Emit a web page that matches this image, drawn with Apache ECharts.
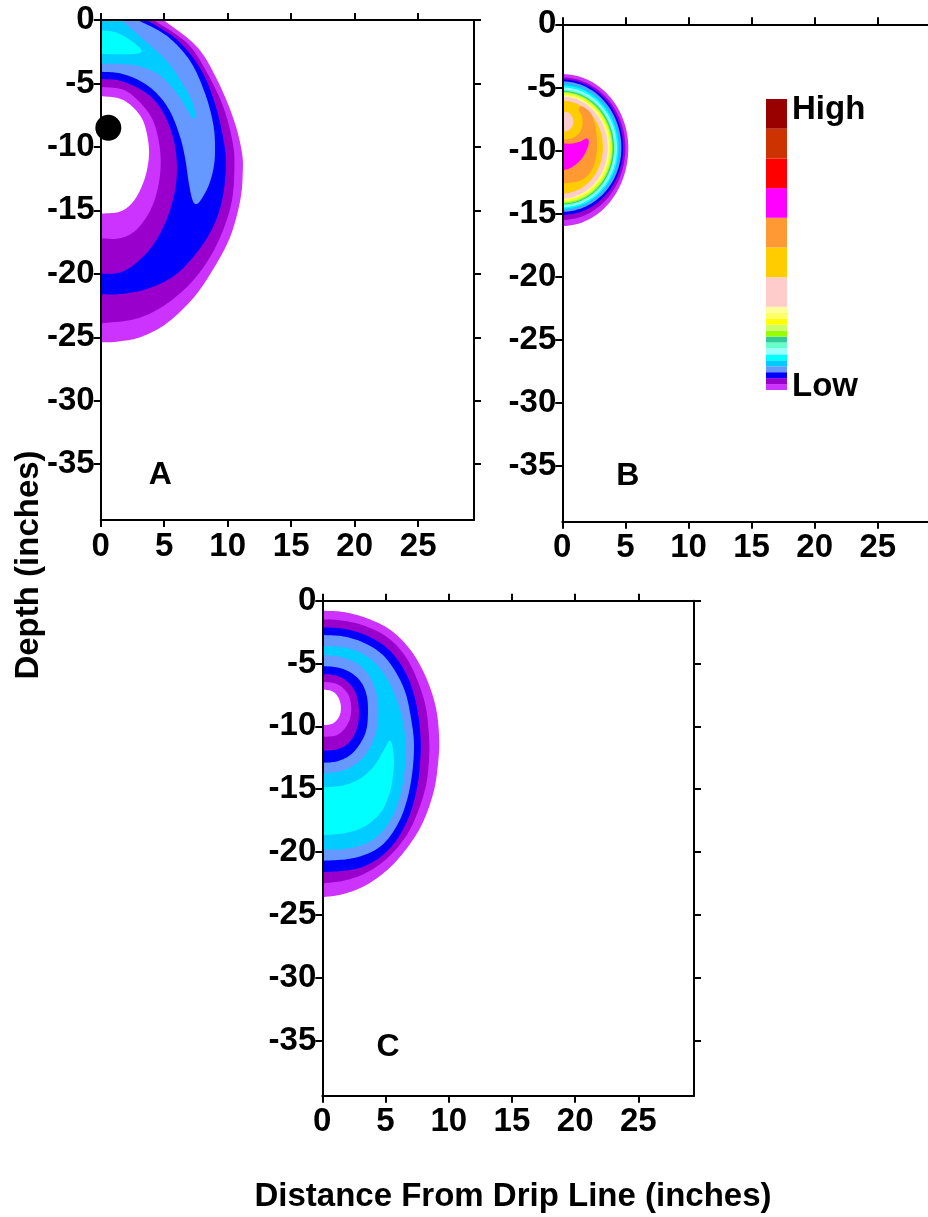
<!DOCTYPE html>
<html>
<head>
<meta charset="utf-8">
<script src="https://cdn.jsdelivr.net/npm/echarts@6.0.0/dist/echarts.min.js"></script>
<style>
html,body{margin:0;padding:0;background:#fff;}
#chart{width:928px;height:1217px;}
</style>
</head>
<body>
<div id="chart"></div>
<script>
// ---------- axes / ticks ----------
const xTickValues = [0, 5, 10, 15, 20, 25];
const yTickValues = [0, -5, -10, -15, -20, -25, -30, -35];
const xMax = 29.4;
const yMin = -39.4;

// ---------- level colours (Low -> High) ----------
const levelColors = ['#CC33FF','#9900CC','#0000FF','#6699FF','#00CCFF','#00FFFF','#99FFFF','#66FFCC','#33CC99','#99FF00','#CCFF66','#FFFF00','#FFFF66','#FFFF99','#FFCCCC','#FFCC00','#FF9933','#FF00FF','#FF0000','#CC3300','#990000'];
const legendBandSizes = [1,1,1,1,1,1,1,1,1,1,1,1,1,1,5,5,5,5,5,5,5];

// ---------- Panel A contour boundaries (x, depth) ----------
const A_lp   = [[4.94,0],[7.57,-2.1],[9.14,-4.65],[10.45,-7.76],[11.1,-10.3],[11.19,-12.0],[10.98,-14.26],[10.19,-17.1],[8.88,-19.6],[7.3,-21.9],[5.2,-23.9],[3.1,-25.0],[1.26,-25.35],[0,-25.4]];
const A_dp   = [[4.15,0],[6.78,-1.8],[8.35,-4.1],[9.67,-6.9],[10.4,-9.7],[10.53,-11.7],[10.32,-14.3],[9.54,-16.8],[8.35,-19.1],[6.78,-21.05],[4.68,-22.7],[2.57,-23.6],[0,-23.9]];
const A_blue = [[3.6,0],[5.99,-1.54],[7.83,-3.8],[9.0,-6.6],[9.72,-9.74],[9.85,-11.7],[9.54,-14.3],[8.75,-16.5],[7.43,-18.5],[5.73,-20.2],[3.62,-21.2],[1.52,-21.6],[0,-21.6]];
const A_cf   = [[2.9,0],[5.2,-1.25],[7.04,-3.23],[8.22,-5.8],[8.88,-8.3],[9.0,-10.3],[8.88,-11.7],[8.48,-13.1],[7.83,-14.26],[7.45,-14.5],[7.17,-14.0],[6.9,-12.6],[6.65,-10.9],[6.25,-9.2],[5.46,-7.2],[4.41,-5.78],[3.1,-4.8],[1.52,-4.2],[0,-4.08]];
const A_ds   = [[1.6,0],[3.36,-1.54],[5.2,-3.23],[6.38,-4.93],[7.17,-6.35],[7.45,-7.5],[7.2,-7.75],[6.9,-7.2],[5.99,-5.78],[4.68,-4.37],[3.1,-3.66],[1.52,-3.46],[0,-3.46]];
const A_cyan = [[0,-0.83],[1.0,-0.92],[2.05,-1.4],[2.97,-2.1],[3.23,-2.45],[2.9,-2.65],[2.0,-2.7],[1.0,-2.7],[0,-2.67]];
const A_hole3 = [[0,-4.65],[1.52,-4.79],[3.36,-5.6],[4.68,-6.9],[5.6,-8.9],[5.99,-11.15],[5.86,-13.4],[5.2,-15.7],[4.15,-17.7],[2.84,-19.1],[1.52,-19.9],[0,-20.0]];
const A_hole2 = [[0,-5.27],[1.79,-5.5],[3.1,-6.5],[4.15,-8.0],[4.68,-10.3],[4.62,-12.6],[4.0,-14.8],[2.84,-16.5],[1.52,-17.2],[0,-17.2]];
const A_hole1 = [[0,-6.0],[1.52,-6.2],[2.57,-6.9],[3.36,-8.0],[3.76,-9.7],[3.76,-11.15],[3.36,-12.8],[2.57,-14.3],[1.52,-15.1],[0,-15.25]];
const A_dot = [[0.6,-8.5]];

// ---------- Panel B rings: top depth, right x, depth at right, bottom depth ----------
const B_ringTop    = [-3.94,-4.21,-4.36,-4.52,-4.68,-4.84,-5.0,-5.15,-5.26,-5.34,-5.42,-5.5,-5.58,-5.66,-5.73,-6.05];
const B_ringRight  = [5.23,5.0,4.82,4.68,4.56,4.44,4.32,4.2,4.1,4.0,3.92,3.84,3.76,3.68,3.6,3.22];
const B_ringRightY = [-9.8,-9.8,-9.8,-9.8,-9.8,-9.8,-9.8,-9.8,-9.8,-9.8,-9.8,-9.8,-9.8,-9.8,-9.75,-9.7];
const B_ringBottom = [-15.98,-15.5,-15.1,-14.85,-14.72,-14.6,-14.48,-14.37,-14.27,-14.2,-14.1,-14.0,-13.92,-13.85,-13.8,-13.4];
const B_orange   = [[0,-9.15],[0.8,-9.0],[1.35,-8.6],[1.6,-8.0],[1.55,-7.3],[1.3,-6.75],[1.5,-6.5],[2.1,-6.85],[2.5,-7.6],[2.72,-8.8],[2.72,-10.2],[2.46,-11.28],[1.93,-12.07],[1.14,-12.47],[0,-12.6]];
const B_magenta  = [[0,-9.43],[0.7,-9.45],[1.4,-9.3],[1.9,-9.05],[2.1,-9.25],[1.95,-9.9],[1.45,-10.75],[0.65,-11.38],[0,-11.55]];
const B_pinkBlob = [[0,-6.92],[0.5,-7.0],[0.8,-7.35],[0.87,-7.75],[0.75,-8.15],[0.45,-8.42],[0,-8.5]];

// ---------- Panel C contour boundaries ----------
const C_lp   = [[0,-0.8],[1.67,-0.9],[3.53,-1.4],[5.39,-2.33],[6.98,-3.93],[8.18,-6.05],[8.97,-8.44],[9.24,-10.83],[9.18,-12.7],[8.84,-15.07],[8.04,-17.46],[6.98,-19.3],[5.39,-21.2],[3.53,-22.6],[1.67,-23.35],[0,-23.6]];
const C_dp   = [[0,-1.48],[1.67,-1.59],[3.53,-2.07],[5.26,-3.0],[6.59,-4.46],[7.51,-6.31],[8.18,-8.44],[8.44,-10.83],[8.44,-12.69],[8.18,-14.8],[7.51,-16.93],[6.59,-18.79],[5.12,-20.51],[3.4,-21.7],[1.67,-22.29],[0,-22.5]];
const C_blue = [[0,-2.12],[1.67,-2.23],[3.4,-2.73],[4.99,-3.66],[6.19,-5.04],[7.06,-6.84],[7.57,-8.97],[7.78,-11.09],[7.73,-12.95],[7.46,-15.07],[6.85,-17.2],[5.87,-19.05],[4.6,-20.4],[3.0,-21.26],[1.41,-21.52],[0,-21.6]];
const C_cf   = [[0,-2.73],[1.67,-2.84],[3.27,-3.34],[4.73,-4.27],[5.79,-5.65],[6.59,-7.37],[7.04,-9.5],[7.25,-11.36],[7.14,-13.48],[6.77,-15.6],[6.13,-17.46],[5.12,-19.05],[3.93,-19.98],[2.2,-20.54],[0,-20.7]];
const C_ds   = [[0,-3.61],[1.67,-3.71],[3.13,-4.19],[4.33,-5.12],[5.26,-6.45],[5.98,-8.17],[6.45,-10.03],[6.58,-11.89],[6.45,-14.01],[6.05,-15.87],[5.39,-17.46],[4.46,-18.66],[3.27,-19.4],[1.67,-19.77],[0,-19.8]];
const C_cyan = [[0,-14.86],[1.67,-14.7],[3.0,-14.15],[4.06,-13.2],[4.86,-11.9],[5.25,-11.2],[5.45,-11.25],[5.6,-11.9],[5.66,-13.2],[5.39,-15.07],[4.73,-16.7],[3.53,-17.86],[1.94,-18.47],[0,-18.66]];
const C_ringCf   = [[0,-4.32],[1.41,-4.46],[2.74,-4.99],[3.67,-5.92],[4.2,-7.11],[4.41,-8.44],[4.33,-10.03],[3.93,-11.36],[3.27,-12.42],[2.34,-13.21],[1.28,-13.61],[0,-13.75]];
const C_ringBlue = [[0,-5.2],[1.28,-5.33],[2.34,-5.78],[3.13,-6.58],[3.53,-7.64],[3.61,-8.97],[3.48,-10.3],[3.0,-11.36],[2.21,-12.29],[1.14,-12.79],[0,-12.9]];
const C_ringDp   = [[0,-5.84],[1.14,-5.97],[1.99,-6.45],[2.6,-7.24],[2.87,-8.3],[2.87,-9.5],[2.6,-10.56],[1.99,-11.41],[1.14,-11.84],[0,-11.94]];
const C_ringLp   = [[0,-6.45],[1.01,-6.58],[1.67,-6.98],[2.13,-7.64],[2.29,-8.57],[2.15,-9.5],[1.67,-10.3],[1.01,-10.75],[0,-10.83]];
const C_hole     = [[0,-7.06],[0.74,-7.19],[1.2,-7.59],[1.46,-8.3],[1.41,-9.02],[1.09,-9.58],[0.61,-9.85],[0,-9.9]];

// ---------- panel letters ----------
const panelLetters = [
  {name:'A', value:[4.7,-35.9]},
  {name:'B', value:[5.2,-35.8]},
  {name:'C', value:[5.2,-35.5]}
];

// ---------- shape lists (drawing order) ----------
const WHITE = '#FFFFFF';
const shapesA = [
  {pts:A_lp, c:levelColors[0]}, {pts:A_dp, c:levelColors[1]}, {pts:A_blue, c:levelColors[2]},
  {pts:A_cf, c:levelColors[3]}, {pts:A_ds, c:levelColors[4]}, {pts:A_cyan, c:levelColors[5]},
  {pts:A_hole3, c:levelColors[1]}, {pts:A_hole2, c:levelColors[0]}, {pts:A_hole1, c:WHITE}
];
const shapesB = [];
for (let i = 0; i < B_ringTop.length; i++) {
  shapesB.push({ring:[B_ringTop[i], B_ringRight[i], B_ringRightY[i], B_ringBottom[i]], c:levelColors[i]});
}
shapesB.push({pts:B_orange, c:levelColors[16]});
shapesB.push({pts:B_magenta, c:levelColors[17]});
shapesB.push({pts:B_pinkBlob, c:levelColors[14]});
const shapesC = [
  {pts:C_lp, c:levelColors[0]}, {pts:C_dp, c:levelColors[1]}, {pts:C_blue, c:levelColors[2]},
  {pts:C_cf, c:levelColors[3]}, {pts:C_ds, c:levelColors[4]}, {pts:C_cyan, c:levelColors[5]},
  {pts:C_ringCf, c:levelColors[3]}, {pts:C_ringBlue, c:levelColors[2]}, {pts:C_ringDp, c:levelColors[1]},
  {pts:C_ringLp, c:levelColors[0]}, {pts:C_hole, c:WHITE}
];

// ---------- rendering helpers ----------
function catmull(p) {
  const out = [];
  const n = p.length;
  for (let i = 0; i < n - 1; i++) {
    const p0 = p[i - 1] || p[i], p1 = p[i], p2 = p[i + 1], p3 = p[i + 2] || p[i + 1];
    for (let k = 0; k < 12; k++) {
      const t = k / 12, t2 = t * t, t3 = t2 * t;
      const f = (a, b, c, d) => 0.5 * (2 * b + (-a + c) * t + (2 * a - 5 * b + 4 * c - d) * t2 + (-a + 3 * b - 3 * c + d) * t3);
      out.push([f(p0[0], p1[0], p2[0], p3[0]), f(p0[1], p1[1], p2[1], p3[1])]);
    }
  }
  out.push(p[n - 1]);
  return out;
}
function makeRender(shapes) {
  return function (params, api) {
    const s = shapes[params.dataIndex];
    let poly;
    if (s.ring) {
      const top = api.coord([0, s.ring[0]]);
      const right = api.coord([s.ring[1], s.ring[2]]);
      const bottom = api.coord([0, s.ring[3]]);
      const cx = top[0], cy = right[1], rx = right[0] - cx;
      const ryT = cy - top[1], ryB = bottom[1] - cy;
      poly = [];
      for (let k = 0; k <= 60; k++) {
        const th = -Math.PI / 2 + Math.PI * k / 60;
        const ry = th < 0 ? ryT : ryB;
        poly.push([cx + rx * Math.cos(th), cy + ry * Math.sin(th)]);
      }
    } else {
      poly = catmull(s.pts.map(p => api.coord(p)));
      const first = s.pts[0];
      if (first[0] > 0) poly.push(api.coord([0, first[1]]));
    }
    return {type:'polygon', shape:{points:poly}, style:{fill:s.c, stroke:null}};
  };
}

const FONT = '"Liberation Sans", Arial, Helvetica, sans-serif';
const LBL = {color:'#000', fontSize:33, fontWeight:'bold', fontFamily:FONT};
const lineS = {color:'#000', width:2};

function xAx(g, pos, lab) {
  return {type:'value', gridIndex:g, position:pos, min:0, max:xMax, z:10,
    axisLine:{show:true, onZero:false, lineStyle:lineS},
    axisTick:{show:true, inside:false, length:7, lineStyle:lineS, customValues:xTickValues},
    axisLabel:Object.assign({show:lab, margin:10, customValues:xTickValues}, LBL),
    splitLine:{show:false}};
}
function yAx(g, pos, lab) {
  return {type:'value', gridIndex:g, position:pos, min:yMin, max:0, z:10,
    axisLine:{show:true, onZero:false, lineStyle:lineS},
    axisTick:{show:true, inside:false, length:7, lineStyle:lineS, customValues:yTickValues},
    axisLabel:Object.assign({show:lab, margin:6, customValues:yTickValues}, LBL),
    splitLine:{show:false}};
}

const grids = [
  {left:100.7, top:20, width:373.3, height:500, outerBoundsMode:'none', containLabel:false},
  {left:562.3, top:24.3, width:371, height:497.4, outerBoundsMode:'none', containLabel:false},
  {left:322.3, top:600.7, width:371.7, height:495, outerBoundsMode:'none', containLabel:false},
  {left:766, top:99, width:21, height:291, outerBoundsMode:'none', containLabel:false}
];
const xAxes = [xAx(0,'bottom',true), xAx(0,'top',false), xAx(1,'bottom',true), xAx(1,'top',false), xAx(2,'bottom',true), xAx(2,'top',false),
  {type:'category', gridIndex:3, data:['legend'], show:false}];
const yAxes = [yAx(0,'left',true), yAx(0,'right',false), yAx(1,'left',true), yAx(1,'right',false), yAx(2,'left',true), yAx(2,'right',false),
  {type:'value', gridIndex:3, min:0, max:legendBandSizes.reduce((a,b)=>a+b,0), show:false}];

function contourSeries(shapes, ai) {
  return {type:'custom', xAxisIndex:ai, yAxisIndex:ai, clip:true, silent:true, z:2,
    renderItem:makeRender(shapes),
    data:shapes.map((s, i) => s.ring ? [0, s.ring[0], i] : [s.pts[0][0], s.pts[0][1], i])};
}

const series = [
  contourSeries(shapesA, 0),
  contourSeries(shapesB, 2),
  contourSeries(shapesC, 4),
  {type:'scatter', xAxisIndex:0, yAxisIndex:0, data:A_dot, symbolSize:26, clip:false, silent:true, z:12,
   itemStyle:{color:'#000', opacity:1}},
];
[[0, 0], [2, 1], [4, 2]].forEach(([ai, li]) => {
  series.push({type:'scatter', xAxisIndex:ai, yAxisIndex:ai, silent:true, z:12, symbolSize:1,
    itemStyle:{color:'#fff', opacity:1},
    label:Object.assign({show:true, position:'inside', opacity:1, formatter:p => p.name}, LBL, {fontSize:32}),
    data:[panelLetters[li]]});
});
levelColors.forEach((c, i) => {
  series.push({type:'bar', xAxisIndex:6, yAxisIndex:6, stack:'legend', barWidth:'100%', silent:true,
    itemStyle:{color:c, opacity:1}, data:[legendBandSizes[i]]});
});

const TXT = (t, x, y, size, rot, align) => ({type:'text', x:x, y:y, rotation:rot || 0, silent:true, z:20,
  style:{text:t, fill:'#000', font:'bold ' + size + 'px ' + FONT, align:align || 'center', verticalAlign:'middle'}});

const chart = echarts.init(document.getElementById('chart'), null, {renderer:'canvas'});
chart.setOption({
  animation:false,
  backgroundColor:'#fff',
  grid:grids, xAxis:xAxes, yAxis:yAxes, series:series,
  graphic:[
    TXT('High', 792, 110, 33, 0, 'left'),
    TXT('Low', 792, 387, 33, 0, 'left'),
    TXT('Depth (inches)', 29, 565, 33, Math.PI / 2),
    TXT('Distance From Drip Line (inches)', 513, 1197, 33, 0)
  ]
});
</script>
</body>
</html>
